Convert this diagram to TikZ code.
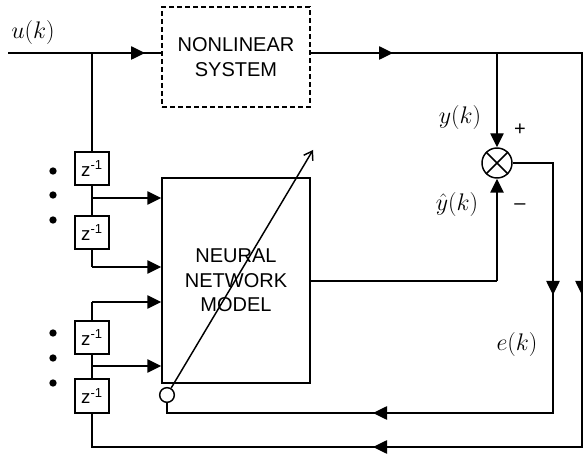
\documentclass[tikz,border=0pt]{standalone}
\usepackage{fix-cm}
\usepackage{fontspec}
\setmainfont{Liberation Serif}
\setsansfont{Liberation Sans}
\usetikzlibrary{arrows.meta,calc}
\begin{document}
\begin{tikzpicture}[x=0.75pt,y=-0.75pt,line width=1.1pt,
  tri/.style={-{Triangle[length=10.5pt,width=10pt]}},
  blk/.style={draw,line width=1.1pt,inner sep=0pt,align=center,
    font=\fontsize{15}{18.5}\selectfont\sffamily,minimum width=111pt},
  zbox/.style={draw,line width=1.6pt,minimum width=25.5pt,minimum height=25pt,inner sep=0pt,
    font=\fontsize{14}{16}\selectfont\sffamily},
  dotn/.style={circle,fill,inner sep=0pt,minimum size=5.5pt},
  lab/.style={font=\fontsize{18}{21}\selectfont,inner sep=0pt},
  sgn/.style={font=\fontsize{15}{18}\selectfont\sffamily,inner sep=0pt}]
\useasboundingbox (0,0) rectangle (583,456);

% blocks
\node[blk,dashed,dash pattern=on 3.5pt off 2.5pt,minimum height=75pt] (sys) at (236,57) {NONLINEAR\\SYSTEM};
\node[blk,minimum height=153.75pt] (nn) at (236,280.5) {NEURAL\\NETWORK\\MODEL};
\node[zbox] (z1) at (92,168.5) {z\textsuperscript{-1}};
\node[zbox] (z2) at (92,232.5) {z\textsuperscript{-1}};
\node[zbox] (z3) at (92,337.5) {z\textsuperscript{-1}};
\node[zbox] (z4) at (92,396) {z\textsuperscript{-1}};
\node[circle,draw,line width=1.1pt,minimum size=22.5pt,inner sep=0pt] (sum) at (497,163) {};
\draw[line width=1.1pt] (sum.north east) -- (sum.south west) (sum.north west) -- (sum.south east);
\node[circle,draw,line width=1.1pt,minimum size=11pt,inner sep=0pt] (sc) at (167,395) {};

% dots
\foreach \yy [count=\i] in {171,195,220,333,358,383} \node[dotn] (d\i) at (53,\yy) {};

% labels
\node[lab] (lu) at (33,33) {$u(k)$};
\node[lab] (ly) at (460,118) {$y(k)$};
\node[lab] (lyh) at (457,205) {$\hat{y}(k)$};
\node[lab] (le) at (517,345) {$e(k)$};
\node[sgn] (plus) at (520,130) {+};
\node[sgn] (minus) at (520,207) {--};

% coordinates
\coordinate (uin) at (8,53);
\coordinate (ua) at (145,53);
\coordinate (ub) at (92,53);
\coordinate (sout) at (310,53);
\coordinate (oa) at (393,53);
\coordinate (ob) at (497,53);
\coordinate (otr) at (582,53);
\coordinate (oarr) at (582,295);
\coordinate (obr) at (582,447);
\coordinate (obarr) at (373,447);
\coordinate (obl) at (92,447);
\coordinate (etr) at (553,163);
\coordinate (earr) at (553,295);
\coordinate (ebr) at (553,413);
\coordinate (ebarr) at (373,413);
\coordinate (ebl) at (167,413);
\coordinate (nno) at (310,281);
\coordinate (nnc) at (497,281);
\coordinate (b1) at (92,198);
\coordinate (b2) at (92,267);
\coordinate (b3) at (92,302);
\coordinate (b4) at (92,366);
\coordinate (dtip) at (313,150);

% input
\draw (uin) -- (uin -| sys.west);
\draw[tri] (uin) -- (ua);
\draw (ub) -- (z1.north);
% output & outer loop
\draw (sout) -- (otr) -- (obr) -- (obl) -- (z4.south);
\draw[tri] (sout) -- (oa);
\draw[tri] (otr) -- (oarr);
\draw[tri] (obr) -- (obarr);
\draw[tri] (ob) -- (sum.north);
% error loop
\draw (sum.east) -- (etr) -- (ebr) -- (ebl) -- (sc.south);
\draw[tri] (etr) -- (earr);
\draw[tri] (ebr) -- (ebarr);
% model output
\draw (nno) -- (nnc);
\draw[tri] (nnc) -- (sum.south);
% delay chains
\draw (z1.south) -- (z2.north);
\draw[tri] (b1) -- (b1 -| nn.west);
\draw (z2.south) -- (b2);
\draw[tri] (b2) -- (b2 -| nn.west);
\draw[tri] (b3) -- (b3 -| nn.west);
\draw (b3) -- (z3.north);
\draw (z3.south) -- (z4.north);
\draw[tri] (b4) -- (b4 -| nn.west);
% adaptation arrow
\draw[-{Straight Barb[length=6pt,width=8pt]}] (sc) -- (dtip);
\end{tikzpicture}
\end{document}
